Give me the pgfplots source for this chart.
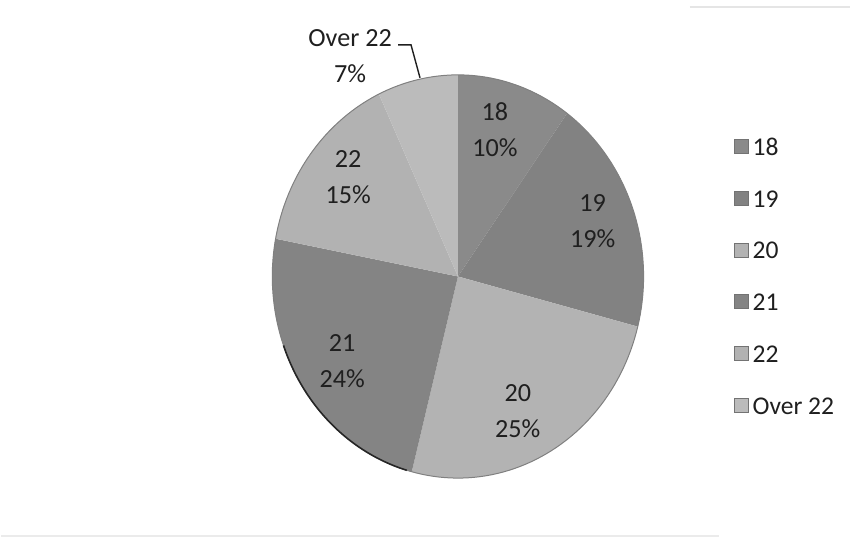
\documentclass[border=0pt]{standalone}
\usepackage{pgfplots}
\pgfplotsset{compat=1.18}
\usepackage{fontspec}
\setmainfont{Carlito}

\definecolor{cEighteen}{HTML}{8A8A8A}
\definecolor{cNineteen}{HTML}{828282}
\definecolor{cTwenty}{HTML}{B3B3B3}
\definecolor{cTwentyOne}{HTML}{848484}
\definecolor{cTwentyTwo}{HTML}{B2B2B2}
\definecolor{cOver}{HTML}{BBBBBB}
\definecolor{txt}{HTML}{1F1F1F}

% pie centre and radii (axis units)
\def\cx{458}
\def\cy{277}
\def\rx{186}
\def\ry{202}

% #1 colour, #2 share before this slice (%), #3 share (%), #4 name, #5/#6 label position
\newcommand{\slice}[6]{%
  \addplot[fill=#1, draw=none, domain={90-3.6*(#2+#3)}:{90-3.6*(#2)}, samples=80, variable=\t]
    ({\cx+\rx*cos(\t)}, {\cy-\ry*sin(\t)}) -- (axis cs:\cx,\cy) -- cycle;
  \addlegendentry{#4}
  \node[align=center, text=txt] at (axis cs:#5,#6) {#4\\#3\%};
}

\begin{document}
\begin{tikzpicture}
\begin{axis}[
  scale only axis,
  width=425.5pt, height=272.5pt,
  xmin=0, xmax=851, ymin=0, ymax=545,
  y dir=reverse,
  axis lines=none,
  clip=false,
  font=\fontsize{13.1}{18}\selectfont,
  legend image code/.code={%
    \draw[#1, draw=black!55, line width=0.4pt] (0pt,-3.5pt) rectangle (7pt,3.5pt);},
  legend style={
    at={(axis cs:734,133)}, anchor=north west,
    draw=none, fill=none, inner sep=0pt,
    row sep=13pt,
    nodes={text height=9pt, text depth=0pt, inner sep=2pt, text=txt,
           font=\fontsize{12.8}{16}\selectfont},
  },
  legend cell align=left,
]
\path (rel axis cs:0,0) rectangle (rel axis cs:1,1);

% faint page edges
\draw[black!10, line width=0.8pt] (axis cs:690,7) -- (axis cs:851,7);
\draw[black!8, line width=0.8pt] (axis cs:0,537) -- (axis cs:720,537);

\slice{cEighteen}{0}{10}{18}{495}{130}
\slice{cNineteen}{10}{19}{19}{593}{222}
\slice{cTwenty}{29}{25}{20}{518}{412}
\slice{cTwentyOne}{54}{24}{21}{342}{362}
\slice{cTwentyTwo}{78}{15}{22}{348}{177}
\slice{cOver}{93}{7}{Over 22}{350}{56}

% outer rim
\addplot[forget plot, draw=black!50, line width=0.5pt, domain=0:360, samples=200, variable=\t]
  ({\cx+\rx*cos(\t)}, {\cy-\ry*sin(\t)});
\addplot[forget plot, draw=black!85, line width=0.8pt, domain=-160:-106, samples=60, variable=\t]
  ({\cx+\rx*cos(\t)}, {\cy-\ry*sin(\t)});

% leader line of the outside label
\draw[txt, line width=0.7pt] (axis cs:398,45) -- (axis cs:411,45) -- (axis cs:420,78);
\end{axis}
\end{tikzpicture}
\end{document}
